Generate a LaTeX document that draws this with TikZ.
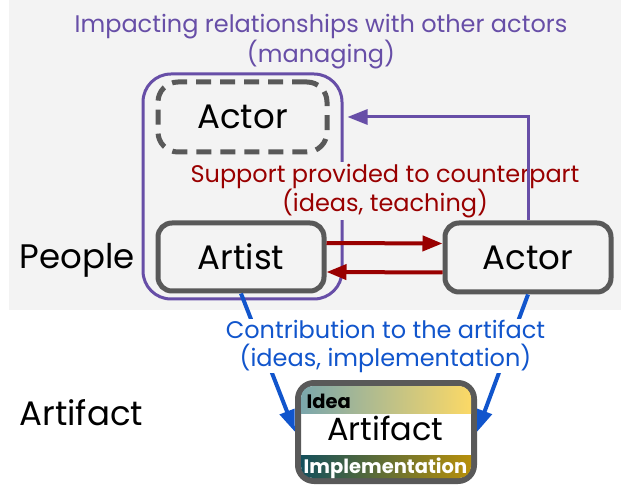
\documentclass[tikz,border=0pt]{standalone}
\usepackage{fontspec}
\setmainfont{Poppins}
\usetikzlibrary{arrows.meta}
\definecolor{bggrey}{HTML}{F3F3F3}
\definecolor{boxgrey}{HTML}{595959}
\definecolor{mgrpurple}{HTML}{674EA7}
\definecolor{supred}{HTML}{990000}
\definecolor{contblue}{HTML}{1155CC}
\definecolor{ideaL}{HTML}{7AA6AC}
\definecolor{ideaR}{HTML}{FCD966}
\definecolor{implL}{HTML}{134F5C}
\definecolor{implR}{HTML}{B8900A}
\begin{document}
\begin{tikzpicture}[x=1pt,y=-1pt,
  box/.style={draw=boxgrey, line width=5pt, rounded corners=14pt, inner sep=0pt,
    minimum width=166pt, minimum height=68pt, font=\fontsize{34}{40}\selectfont},
  dashbox/.style={box, dash pattern=on 15pt off 9pt, rounded corners=20pt},
  groupbox/.style={draw=mgrpurple, line width=3pt, rounded corners=28pt, inner sep=0pt},
  caption/.style={align=center, font=\fontsize{24}{28}\selectfont},
  sidetext/.style={anchor=base west, font=\fontsize{34}{40}\selectfont},
  redarrow/.style={draw=supred, line width=4pt, -{Triangle[length=20pt,width=15pt]}},
  purplearrow/.style={draw=mgrpurple, line width=3pt, -{Triangle[length=20pt,width=15pt]}},
  bluearrow/.style={draw=contblue, line width=4pt, -{Triangle[length=22pt,width=15pt]}},
  bandtext/.style={anchor=base, font=\bfseries\fontsize{19.5}{22}\selectfont}
]
\useasboundingbox (0,0) rectangle (621,486);
% people area
\fill[bggrey] (9,0) rectangle (621,310);

\node[caption, text=mgrpurple] (impact) at (321,41.5)
  {Impacting relationships with other actors\\(managing)};

\node[groupbox, minimum width=199pt, minimum height=225pt] (pbox) at (242.5,186.5) {};
\node[dashbox, minimum width=169pt, minimum height=70pt] (dashactor) at (242.5,117) {Actor};
\node[box] (artist) at (241,257) {Artist};
\node[box, minimum height=69pt] (actor) at (528,257.5) {Actor};

\node[sidetext] (people) at (16,269) {People};
\node[sidetext] (artifactlabel) at (16,425) {Artifact};

\node[caption, text=supred, fill=bggrey, inner sep=2pt] (support) at (385,191)
  {Support provided to counterpart\\(ideas, teaching)};

\draw[redarrow] ([yshift=14pt]artist.east) -- ([yshift=14pt]actor.west);
\draw[redarrow] ([yshift=-15pt]actor.west) -- ([yshift=-15pt]artist.east);
\draw[purplearrow] (actor.north) |- ([xshift=4pt]dashactor.east -| pbox.east);

% artifact box with its two bands
\node[box, line width=6pt, fill=white, rounded corners=16pt,
  minimum width=176pt, minimum height=98pt] (artifact) at (386,432) {};
\begin{scope}
  \clip[rounded corners=12pt] (301,386) rectangle (471,478);
  \shade[left color=ideaL, right color=ideaR] (300,385) rectangle (472,413);
  \shade[left color=implL, right color=implR] (300,455) rectangle (472,479);
\end{scope}
\node[bandtext, anchor=base west] (idea) at (303,408) {Idea};
\node[bandtext, text=white] (impl) at (385.5,473) {Implementation};
\node[anchor=base, font=\fontsize{32}{36}\selectfont] (arttext) at (385.5,440) {Artifact};

\draw[bluearrow] (artist.south) -- (artifact.west);
\draw[bluearrow] (actor.south) -- (artifact.east);
\node[caption, text=contblue, fill=white, inner sep=1pt] (contrib) at (385.5,346)
  {Contribution to the artifact\\(ideas, implementation)};
\end{tikzpicture}
\end{document}
